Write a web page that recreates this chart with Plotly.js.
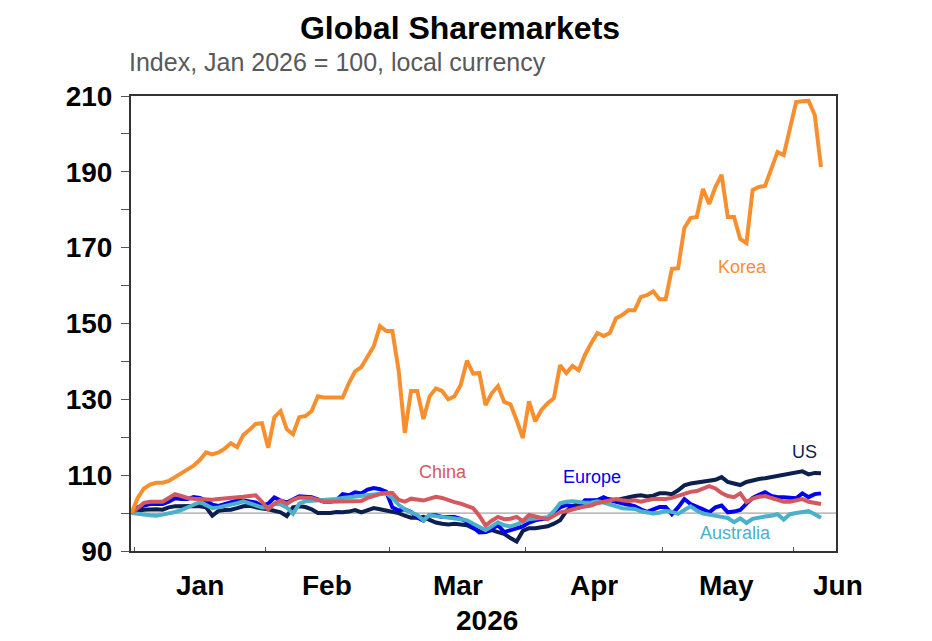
<!DOCTYPE html>
<html>
<head>
<meta charset="utf-8">
<script src="https://cdn.plot.ly/plotly-3.0.1.min.js"></script>
<style>html,body{margin:0;padding:0;background:#fff;}#chart{width:932px;height:641px;}</style>
</head>
<body>
<div id="chart"></div>
<script>
// Trading days (weekdays) from 1 Jan 2026 to 5 Jun 2026
const startDate = '2026-01-01';
const endDate = '2026-06-05';

const korea = [100,104,106.5,107.5,108,108,108.5,109.5,110.8,111.6,112.5,114,116,115.5,116,117,118.4,117.4,120.6,122,123.5,123.7,
  117.2,125.3,126.9,122.1,120.8,125.3,125.6,126.9,130.8,130.5,130.5,130.5,130.5,134.3,137.4,138.5,141.2,144,149.3,148,
  148,137.7,121.1,132.2,132.2,124.8,130.8,132.9,132.2,130,130.8,133.8,140.2,136.8,136.9,128.5,131.6,133.5,129.3,128.7,124.5,119.8,
  129.5,124.2,127.2,129,130.3,139,136.9,138.8,137.7,141.7,144.8,147.5,146.7,147.5,151.4,152.2,153.5,153.5,157,157.5,158.5,156.4,
  156.4,164.4,164.6,175.2,177.8,178.1,185.5,181.5,186,189.2,178.1,178.1,172.3,171.2,185.2,186,186.3,190.7,195.2,194.4,201.6,
  208.4,208.6,208.7,205,191.3];

const china = [100,101.5,102.7,103,103,103,104,105,104.5,104,103.8,103.7,103.5,103.5,103.7,103.8,104,104.2,104.3,104.5,104.7,103,
  101,102.5,103.3,102.4,103.5,104.1,104,104,103.5,103,103,103,103,103,103,103.2,104,104.6,105,105.3,
  105.3,103.5,103,103.8,103.5,103.3,103.8,104.3,104,103.4,102.9,102.5,101.9,101.3,99.3,96.7,98,99,98.4,98.5,99,97.9,
  99.5,99,98.7,98.4,99.2,100.2,100.5,101,101.4,101.7,102,102.6,103,103.4,103.7,103.4,103.2,103.4,103,103.4,103.7,103.7,
  103.7,104,104.6,105,105.6,105.8,106.4,107.1,106.5,105.3,104.5,104.2,105.2,102.9,103.8,104.3,104.5,104,103.7,103,103,
  103.3,103.7,103,102.6,102.4];

const europe = [100,101.5,102,102.4,102.4,102.4,103,103.9,103.7,103.7,104.2,104,103.3,102.2,101.9,102.4,103,103.3,103.3,103,102.8,101.9,
  102.5,104.1,103.3,102.8,103.5,104.4,104.3,104.2,103.6,103,103,103.4,105,104.7,105.5,105.2,106.2,106.6,106.3,105.6,
  101.5,100.7,101,100.3,98.8,98,99.5,99.4,99,99,99,98.5,97.7,96.3,94.9,95,95.8,96.8,95,95.5,96,96.5,
  97.5,98.1,98.4,98.6,100.2,101.5,102.1,101.8,101.5,103.4,103.4,103.4,104.2,103.4,103,102.6,102.3,101.8,101,100.3,101,101.6,
  101.6,99.7,101.5,103.7,102.4,101.8,101,100.2,101.5,102,100.2,100.4,100.8,102.5,104,104.8,105.5,104.5,104.2,104.2,104,
  103.9,105.2,104.2,105,105.2];

const us = [100,100.6,100.9,101,101,100.9,101.5,101.8,101.9,101.9,101.9,101.8,101.5,99.3,100.6,100.8,100.9,101.3,101.8,101.9,101.5,101.2,
  101,100.6,100.2,99.2,101.5,101.8,101.6,101,100,100,100,100.3,100.2,100.4,100.8,100.2,100.8,101.3,101,100.6,
  100.3,100,99.3,98.8,98.8,99,98.2,97.5,97.2,97,97.2,97,96.8,96,95.3,95,95.5,95,94.5,93.4,92.5,95.3,
  96,96,96.2,96.5,97.2,98.1,100.5,101.8,102.5,102.8,103,103.4,103.9,103.7,103.4,103.8,104.2,104.5,104.7,104.4,104.6,105.2,
  105.2,105,106,107.3,107.8,108,108.2,108.5,108.8,109.5,108.2,107.8,107.4,108.2,108.7,109,109.2,109.5,109.8,110.3,110.6,
  110.8,111,110.2,110.6,110.5];

const australia = [100,99.9,99.6,99.4,99.3,99.6,99.9,100.3,100.8,101.4,102.2,102.9,102,101.3,101.5,101.8,102.3,102.6,103.1,102.5,101.9,101.5,
  101.5,102.4,102.3,101.5,99.8,102.5,103.1,103.2,103.3,103.4,103.5,103.7,104,104.2,104.5,104.7,104.9,105,105.1,105.2,
  104,102.2,101,100.2,99.5,98.1,99.5,99.2,99,99,98.7,98.4,98.1,97.2,96.1,95.5,96.5,97.6,96.8,96.5,97,97.6,
  98.4,98.6,98.7,98.9,100.5,102.6,103,103.1,102.9,102.7,102.8,103.1,102.8,102.4,101.8,101.3,101.3,101.1,100.5,100.3,99.9,100.1,
  100.6,100.3,99.8,100.8,101.8,100.7,99.9,99.6,99.2,99,98.7,97.6,98.6,97.4,98.5,98.9,99.1,99.3,99.7,98.3,99.7,
  100,100.2,100.5,99.7,98.8];

const seriesNames = ['US','Europe','Australia','China','Korea'];
const seriesColors = {Korea:'#F78F2E', China:'#D4595E', Europe:'#0000F0', US:'#0D1F4E', Australia:'#4BB0C9'};
const seriesData = {Korea:korea, China:china, Europe:europe, US:us, Australia:australia};

const monthLabels = ['Jan','Feb','Mar','Apr','May','Jun'];
const monthStarts = ['2026-01-02','2026-02-02','2026-03-02','2026-04-01','2026-05-01','2026-06-01'];
const yTickVals = [90,100,110,120,130,140,150,160,170,180,190,200,210];
const yTickText = ['90','','110','','130','','150','','170','','190','','210'];
const yearLabel = '2026';

// build weekday dates
function weekdays(s, e) {
  const out = [];
  const d = new Date(s + 'T12:00:00Z');
  const end = new Date(e + 'T12:00:00Z');
  while (d <= end) {
    const wd = d.getUTCDay();
    if (wd !== 0 && wd !== 6) out.push(d.toISOString().slice(0,10) + ' 12:00');
    d.setUTCDate(d.getUTCDate() + 1);
  }
  return out;
}
const dates = weekdays(startDate, endDate);

const FONT = 'Liberation Sans, Arial, Helvetica, sans-serif';

const traces = seriesNames.map(n => ({
  x: dates.slice(0, seriesData[n].length),
  y: seriesData[n],
  type: 'scatter', mode: 'lines', name: n,
  line: {color: seriesColors[n], width: 4},
  hoverinfo: 'skip'
}));

// series label annotations (x in paper fraction, y in data units)
const labelPos = {Korea:[0.867,164.9], China:[0.443,110.8], Europe:[0.654,109.5], US:[0.956,116.1], Australia:[0.857,94.7]};
const annotations = seriesNames.map(n => ({
  text: n, xref:'paper', yref:'y', x: labelPos[n][0], y: labelPos[n][1],
  showarrow:false, xanchor:'center', yanchor:'middle',
  font:{family:FONT, size:18, color:seriesColors[n]}
}));

const monthX = [0.098,0.278,0.464,0.657,0.845,1.003];
monthLabels.forEach((m,i) => annotations.push({
  text: m, xref:'paper', yref:'paper', x: monthX[i], y: -0.075,
  showarrow:false, xanchor:'center', yanchor:'middle',
  font:{family:FONT, size:28, color:'#000', weight:'bold'}
}));
annotations.push({
  text: yearLabel, xref:'paper', yref:'paper', x: 0.505, y: -0.152,
  showarrow:false, xanchor:'center', yanchor:'middle',
  font:{family:FONT, size:28, color:'#000', weight:'bold'}
});
annotations.push({
  text: 'Index, Jan 2026 = 100, local currency', xref:'paper', yref:'paper', x: -0.006, y: 1.075,
  showarrow:false, xanchor:'left', yanchor:'middle',
  font:{family:FONT, size:25, color:'#595959'}
});

const layout = {
  width: 932, height: 641,
  margin: {l:131, r:96, t:96, b:90},
  paper_bgcolor:'#fff', plot_bgcolor:'#fff',
  showlegend:false,
  title: {text:'Global Sharemarkets', xref:'container', yref:'container', x:0.4936, y:0.956,
          xanchor:'center', yanchor:'middle', font:{family:FONT, size:32, color:'#000', weight:'bold'}},
  xaxis: {
    type:'date',
    range:['2026-01-01 10:00','2026-06-09 22:00'],
    rangebreaks:[{bounds:['sat','mon']}],
    tickvals: monthStarts, showticklabels:false,
    ticks:'inside', ticklen:4, tickwidth:1, tickcolor:'#555',
    showgrid:false, zeroline:false,
    showline:true, mirror:true, linecolor:'#333', linewidth:2
  },
  yaxis: {
    range:[90,210],
    tickvals: yTickVals, ticktext: yTickText,
    ticks:'outside', ticklen:8, tickwidth:1, tickcolor:'#555',
    ticklabelstandoff: 3,
    tickfont:{family:FONT, size:28, color:'#000', weight:'bold'},
    showgrid:false, zeroline:false,
    showline:true, mirror:true, linecolor:'#333', linewidth:2
  },
  shapes: [{type:'line', xref:'paper', yref:'y', x0:0, x1:1, y0:100, y1:100,
            line:{color:'#8c8c8c', width:1}, layer:'below'}],
  annotations: annotations
};

Plotly.newPlot('chart', traces, layout, {displayModeBar:false, staticPlot:true});
</script>
</body>
</html>
